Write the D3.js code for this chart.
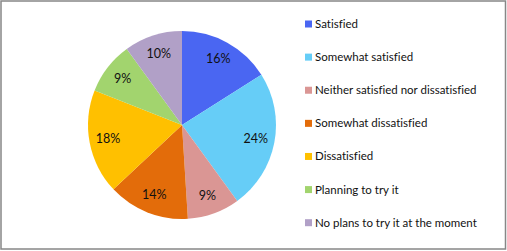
<!DOCTYPE html>
<html><head><meta charset="utf-8">
<script src="https://cdn.jsdelivr.net/npm/d3@7"></script>
<style>body{margin:0;background:#fff}svg{display:block}text{font-variant-ligatures:none}</style>
</head><body>
<svg id="c" width="507" height="251"></svg>
<script>
const categories = ["Satisfied","Somewhat satisfied","Neither satisfied nor dissatisfied","Somewhat dissatisfied","Dissatisfied","Planning to try it","No plans to try it at the moment"];
const values = [16,24,9,14,18,9,10];
const colors = ["#4a66f2","#66cdf7","#da9694","#e36c0a","#ffc000","#a2d46e","#b1a0c7"];

const svg = d3.select("#c");
svg.append("rect").attr("x",1).attr("y",1).attr("width",504.5).attr("height",248)
  .attr("fill","#fff").attr("stroke","#878787").attr("stroke-width",1.5);

const cx = 182, cy = 125, r = 94;
const pie = d3.pie().sort(null).value(d=>d.v);
const data = pie(categories.map((c,i)=>({c, v: values[i], col: colors[i]})));
const arc = d3.arc().innerRadius(0).outerRadius(r);
const labelArc = d3.arc().innerRadius(r*0.8).outerRadius(r*0.8);
const g = svg.append("g").attr("transform",`translate(${cx},${cy})`);
g.selectAll("path").data(data).join("path").attr("d",arc).attr("fill",d=>d.data.col);
g.selectAll("text").data(data).join("text")
  .attr("transform",d=>`translate(${labelArc.centroid(d)})`)
  .attr("text-anchor","middle").attr("dy","0.35em")
  .attr("font-family","Lato, Open Sans, sans-serif").attr("font-size",12.5)
  .attr("fill","#111").text(d=>d.data.v+"%");

const ly = d3.scalePoint().domain(categories).range([24,222.7]);
const lg = svg.append("g");
const item = lg.selectAll("g").data(categories).join("g")
  .attr("transform",c=>`translate(305,${ly(c)})`);
item.append("rect").attr("x",0).attr("y",-3.5).attr("width",7).attr("height",7)
  .attr("fill",(c,i)=>colors[i]);
item.append("text").attr("x",10).attr("dy","0.35em")
  .attr("font-family","Lato, Open Sans, sans-serif").attr("font-size",11.5)
  .attr("fill","#111").text(c=>c);
</script>
</body></html>
